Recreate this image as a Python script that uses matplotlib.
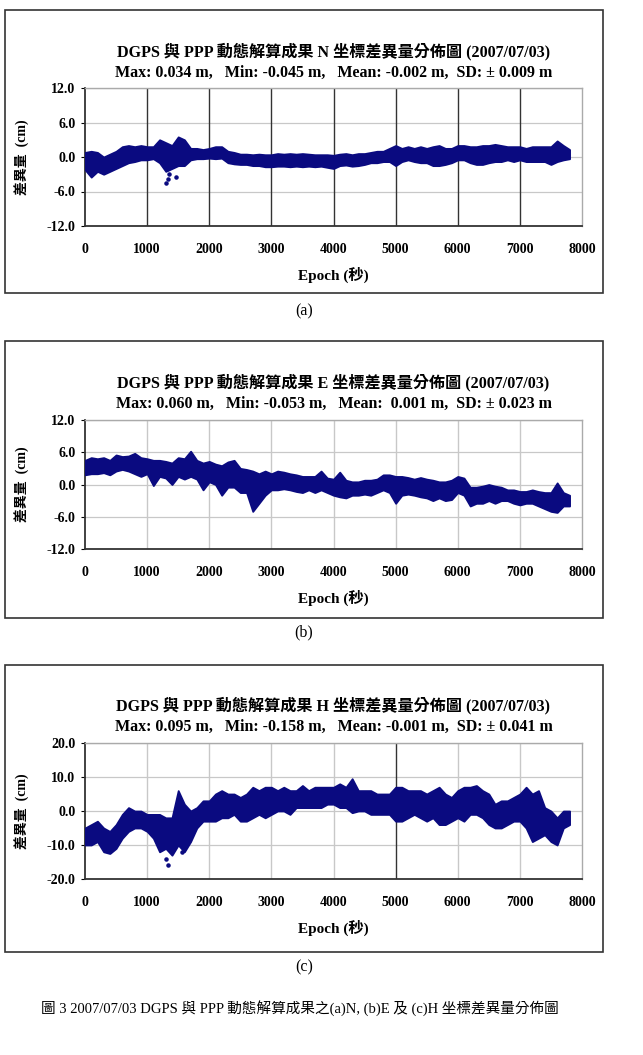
import numpy as np
import matplotlib
matplotlib.use("Agg")
import matplotlib.pyplot as plt
from matplotlib.patches import Rectangle

plt.rcParams['font.family'] = ['Liberation Serif', 'Noto Sans CJK TC', 'DejaVu Sans']
plt.rcParams['axes.unicode_minus'] = False

epochs = np.arange(0, 7801, 100)

# N component (cm): lower / upper edge of the point cloud
n_lo = [-2.2, -3.5, -2.5, -3.0, -2.5, -2.0, -1.5, -1.0, -0.8, -0.5,
        -0.5, -0.3, -1.0, -2.5, -2.0, -1.5, -1.5, -0.5, -0.3, -0.3,
        -0.2, -0.3, -0.2, -1.0, -1.2, -1.3, -1.3, -1.5, -1.5, -1.7,
        -1.7, -1.6, -1.6, -1.7, -1.6, -1.7, -1.6, -1.7, -1.6, -1.8,
        -2.0, -1.5, -1.4, -1.6, -1.5, -1.3, -1.0, -1.0, -0.8, -0.8,
        -1.5, -0.8, -0.5, -0.8, -1.0, -1.0, -1.5, -1.5, -1.3, -1.0,
        -0.5, -0.5, -1.0, -1.3, -1.3, -1.0, -0.8, -0.8, -0.5, -0.8,
        -0.5, -0.8, -0.8, -0.8, -0.8, -1.3, -0.8, -0.5, -0.3]
n_hi = [0.8, 1.0, 0.8, 0.0, 0.5, 1.0, 1.8, 2.0, 1.8, 2.0,
        1.8, 1.8, 3.0, 2.5, 2.0, 3.5, 3.0, 1.5, 1.5, 1.3,
        1.5, 1.8, 1.8, 1.0, 0.8, 0.5, 0.5, 0.4, 0.5, 0.4,
        0.4, 0.6, 0.5, 0.6, 0.5, 0.6, 0.5, 0.4, 0.4, 0.4,
        0.3, 0.5, 0.6, 0.4, 0.6, 0.6, 0.8, 1.0, 1.0, 1.5,
        2.0, 1.5, 1.8, 1.5, 1.8, 1.5, 1.8, 2.0, 1.5, 1.5,
        2.0, 2.0, 1.8, 1.8, 2.0, 2.0, 2.2, 2.0, 1.8, 1.8,
        1.8, 1.5, 1.8, 1.8, 1.8, 1.8, 2.8, 2.0, 1.3]
n_out_x = [1300, 1330, 1350, 1470]
n_out_y = [-4.5, -3.8, -3.0, -3.5]

# E component (cm)
e_lo = [1.8, 2.0, 2.0, 2.2, 1.8, 2.5, 2.8, 2.5, 2.0, 1.5,
        2.0, -0.2, 1.5, 1.2, 0.0, 1.5, 1.0, 1.5, 1.0, -1.0,
        0.5, 0.0, -2.0, -0.5, -0.5, -1.5, -1.5, -5.0, -3.5, -2.0,
        -1.0, -1.0, -0.8, -1.0, -1.3, -1.5, -1.0, -1.5, -1.0, -1.5,
        -2.0, -2.3, -2.5, -2.0, -2.0, -1.8, -2.0, -1.5, -1.0, -1.5,
        -3.5, -2.0, -1.8, -2.0, -2.3, -2.5, -3.0, -2.5, -3.0, -2.8,
        -1.5, -2.0, -4.0, -3.5, -3.5, -3.0, -3.5, -3.0, -3.0, -3.5,
        -3.8, -3.5, -3.5, -4.0, -4.5, -5.0, -5.2, -4.0, -4.0]
e_hi = [4.5, 5.0, 4.8, 5.0, 4.5, 5.5, 5.2, 5.3, 5.8, 5.0,
        4.8, 4.5, 4.5, 4.3, 4.0, 5.0, 4.8, 6.2, 4.5, 4.0,
        4.3, 3.8, 3.5, 4.2, 4.5, 3.0, 2.8, 2.5, 2.0, 2.5,
        2.0, 2.5, 2.3, 2.0, 1.8, 1.5, 1.5, 1.5, 2.5, 1.2,
        1.0, 2.3, 0.8, 0.5, 0.5, 0.8, 0.8, 1.0, 1.8, 1.8,
        1.5, 1.5, 1.3, 1.0, 1.3, 1.0, 0.8, 0.5, 0.5, 0.8,
        1.5, 1.2, -0.5, -0.5, -0.3, 0.0, -0.3, -0.5, -1.0, -1.0,
        -1.3, -1.3, -1.0, -1.3, -1.5, -1.5, 0.3, -1.5, -2.0]
e_out_x = []
e_out_y = []

# H component (cm)
h_lo = [-10, -10, -9, -12, -12.5, -11, -8, -6, -5, -5,
        -6, -8, -12, -11, -13, -10, -12, -9, -5, -3,
        -3, -3, -2, -2, -1, -3, -3, -2, -1, -2,
        -1, 0, 0, -1, 1, 1, 1, 1, 1, 2,
        2, 1, 1, -0.5, 0, 0, -1, -1, -1, -1,
        -3, -3, -2, -1, -2, -3, -2, -4, -4, -3,
        -2, -3, -1, -1, -2, -4, -5, -5, -4, -3,
        -3, -5, -9, -8, -7, -9, -10, -5, -4]
h_hi = [-5, -4, -3, -5, -6, -4, -1, 1, 0, 0,
        -1, -1, -1, -2, -2, 6, 2, 0, 1, 3,
        3, 5, 6, 5, 5, 4, 5, 7, 6, 7,
        7, 6, 7, 6, 6, 7.5, 6, 7, 7, 7,
        7, 8, 7, 9.5, 6, 6, 6, 5, 5, 5,
        7, 7, 6, 6, 6, 5, 6, 7, 5, 4,
        6, 7, 7, 7.5, 6, 5, 2, 3, 3, 4,
        5, 7, 5, 6, 1, 0, -2, 0, 0]
h_out_x = [1310, 1330, 1560]
h_out_y = [-14.0, -15.8, -12.0]

panel_titles = [
    "DGPS 與 PPP 動態解算成果 N 坐標差異量分佈圖 (2007/07/03)",
    "DGPS 與 PPP 動態解算成果 E 坐標差異量分佈圖 (2007/07/03)",
    "DGPS 與 PPP 動態解算成果 H 坐標差異量分佈圖 (2007/07/03)",
]
panel_stats = [
    "Max: 0.034 m,   Min: -0.045 m,   Mean: -0.002 m,  SD: ± 0.009 m",
    "Max: 0.060 m,   Min: -0.053 m,   Mean:  0.001 m,  SD: ± 0.023 m",
    "Max: 0.095 m,   Min: -0.158 m,   Mean: -0.001 m,  SD: ± 0.041 m",
]
panel_yticks = [[-12, -6, 0, 6, 12], [-12, -6, 0, 6, 12], [-20, -10, 0, 10, 20]]
panel_tags = ["(a)", "(b)", "(c)"]
xticks = [0, 1000, 2000, 3000, 4000, 5000, 6000, 7000, 8000]
caption = "圖 3 2007/07/03 DGPS 與 PPP 動態解算成果之(a)N, (b)E 及 (c)H 坐標差異量分佈圖"

lows = [n_lo, e_lo, h_lo]
highs = [n_hi, e_hi, h_hi]
outs = [(n_out_x, n_out_y), (e_out_x, e_out_y), (h_out_x, h_out_y)]

W, H = 643, 1055
fig = plt.figure(figsize=(W / 100, H / 100), dpi=100)
fig.patch.set_facecolor('white')

# pixel layout of each panel: (box top, box bottom, axes top, axes bottom, title1 y, title2 y, epoch y, tag y)
layout = [
    (10, 293, 88, 226, 51, 73, 275, 311),
    (341, 618, 420, 549, 382, 404, 598, 632),
    (665, 952, 743, 879, 705, 727, 928, 967),
]
ax_left, ax_right = 85, 582
navy = '#0a0a80'

for i in range(3):
    btop, bbot, atop, abot, t1, t2, ey, tg = layout[i]
    fig.patches.append(Rectangle((5 / W, 1 - bbot / H), 598 / W, (bbot - btop) / H,
                                 transform=fig.transFigure, fill=False,
                                 edgecolor='#333333', linewidth=1.2))
    ax = fig.add_axes([ax_left / W, 1 - abot / H, (ax_right - ax_left) / W, (abot - atop) / H])
    ax.fill_between(epochs, lows[i], highs[i], color=navy, linewidth=1.3,
                    edgecolor=navy, zorder=3)
    ox, oy = outs[i]
    if ox:
        ax.scatter(ox, oy, s=5, color=navy, zorder=3)
    yt = panel_yticks[i]
    ax.set_xlim(0, 8000)
    ax.set_ylim(yt[0], yt[-1])
    ax.set_xticks(xticks)
    ax.set_yticks(yt)
    ax.set_xticklabels([str(x) for x in xticks], fontsize=10, fontweight='bold')
    ax.set_yticklabels(['%.1f' % v for v in yt], fontsize=10, fontweight='bold')
    ax.tick_params(axis='x', length=0, pad=12)
    ax.tick_params(axis='y', length=3, pad=4)
    ax.yaxis.grid(True, color='#c8c8c8', linewidth=0.9, zorder=0)
    # vertical grid lines: dark in (a), light in (b) and (c), with a dark line at 5000 in (c)
    for x in xticks[1:-1]:
        c = '#c8c8c8'
        if i == 0 or (i == 2 and x == 5000):
            c = '#333333'
        ax.axvline(x, color=c, linewidth=1.0, zorder=1)
    ax.set_axisbelow(True)
    for s in ['left', 'bottom']:
        ax.spines[s].set_color('#333333')
        ax.spines[s].set_linewidth(1.3)
    for s in ['top', 'right']:
        ax.spines[s].set_color('#aaaaaa')
        ax.spines[s].set_linewidth(1.0)

    xc = (ax_left + ax_right) / 2 / W
    fig.text(xc, 1 - t1 / H, panel_titles[i], ha='center', va='center',
             fontsize=11.6, fontweight='bold')
    fig.text(xc, 1 - t2 / H, panel_stats[i], ha='center', va='center',
             fontsize=11.5, fontweight='bold')
    fig.text(xc, 1 - ey / H, "Epoch (秒)", ha='center', va='center',
             fontsize=11, fontweight='bold')
    fig.text(22 / W, 1 - (atop + abot) / 2 / H, "差異量  (cm)", ha='center', va='center',
             rotation=90, fontsize=10, fontweight='bold')
    fig.text(304 / W, 1 - tg / H, panel_tags[i], ha='center', va='center', fontsize=11.5)

fig.text(300 / W, 1 - 1008 / H, caption, ha='center', va='center', fontsize=10.5)

fig.savefig('out.png', dpi=100, facecolor='white')
